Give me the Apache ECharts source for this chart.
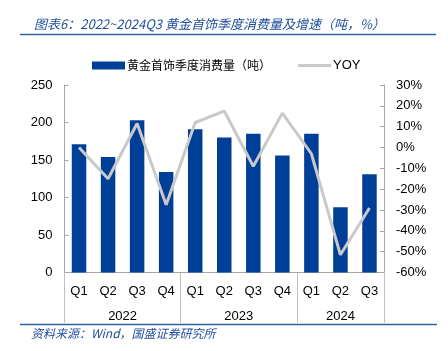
<!DOCTYPE html>
<html>
<head>
<meta charset="utf-8">
<script src="https://cdn.jsdelivr.net/npm/echarts@6/dist/echarts.min.js"></script>
<style>
html, body { margin: 0; padding: 0; background: #fff; }
#chart { width: 448px; height: 351px; }
</style>
</head>
<body>
<div id="chart"></div>
<script>
// 季度
var quarters = ['Q1', 'Q2', 'Q3', 'Q4', 'Q1', 'Q2', 'Q3', 'Q4', 'Q1', 'Q2', 'Q3'];
// 年份分组（半格刻度，共 23 个点）
var years = ['2022', '2023', '2024'];
var yearLabelIdx = [4, 12, 19];
var yearSplitIdx = [0, 8, 16, 22];
// 黄金首饰季度消费量（吨）
var volume = [171, 154, 203, 134, 191, 180, 185, 156, 185, 87, 131];
// YOY（%）
var yoy = [0, -15, 11.5, -27.5, 12, 17.5, -9, 16.5, -3, -51.5, -29];
// 坐标轴刻度
var leftAxis = { min: 0, max: 250, interval: 50 };
var rightAxis = { min: -60, max: 30, interval: 10 };

var FONT = 'Liberation Sans, Arial, Noto Sans CJK SC, sans-serif';
var CJK = 'Noto Sans CJK SC, sans-serif';
var BLUE = '#003f98';
var GRAY_LINE = '#c9c9c9';
var AXIS = '#a6a6a6';

var yearData = [];
for (var i = 0; i < 23; i++) {
	var k = yearLabelIdx.indexOf(i);
	yearData.push(k >= 0 ? years[k] : '');
}

var myChart = echarts.init(document.getElementById('chart'));

var option = {
	animation: false,
	textStyle: { fontFamily: FONT },
	title: {
		text: '图表6：2022~2024Q3 黄金首饰季度消费量及增速（吨，%）',
		left: 29,
		top: 13,
		textStyle: {
			color: '#1f4e9c',
			fontStyle: 'italic',
			fontWeight: 'normal',
			fontSize: 13,
			fontFamily: CJK
		}
	},
	legend: {
		left: 92,
		top: 59,
		padding: 0,
		itemGap: 27,
		itemWidth: 33,
		itemHeight: 8,
		textStyle: { color: '#000', fontSize: 12, fontFamily: CJK, padding: [0, 0, 0, -3] },
		data: [
			{ name: '黄金首饰季度消费量（吨）', icon: 'rect' },
			{
				name: 'YOY',
				icon: 'path://M0,0 L0.01,0 Z M0,2.6 L33,2.6 L33,5.4 L0,5.4 Z M0,8 L0.01,8 Z',
				itemStyle: { color: GRAY_LINE },
				textStyle: { fontFamily: FONT, fontSize: 13 }
			}
		]
	},
	graphic: [
		{ type: 'line', shape: { x1: 20, y1: 34.5, x2: 436, y2: 34.5 }, style: { stroke: '#2f5fa8', lineWidth: 1.5 } },
		{ type: 'line', shape: { x1: 20, y1: 324.5, x2: 437, y2: 324.5 }, style: { stroke: '#2f5fa8', lineWidth: 1.5 } },
		{
			type: 'text', left: 31, top: 327,
			style: { text: '资料来源：Wind，国盛证券研究所', fill: '#1f4e9c', fontStyle: 'italic', fontSize: 12, fontFamily: CJK }
		}
	],
	grid: { left: 64.5, right: 64, top: 85, bottom: 78.5 },
	xAxis: [
		{
			type: 'category',
			data: quarters,
			position: 'bottom',
			axisLine: { onZero: false, lineStyle: { color: AXIS } },
			axisTick: { interval: 0, length: 25, lineStyle: { color: '#c0c0c0' } },
			axisLabel: { interval: 0, margin: 12, color: '#000', fontSize: 13 }
		},
		{
			type: 'category',
			data: yearData,
			position: 'bottom',
			boundaryGap: false,
			axisLine: { show: false, onZero: false },
			axisTick: {
				length: 50,
				interval: function (idx) { return yearSplitIdx.indexOf(idx) >= 0; },
				lineStyle: { color: '#c0c0c0' }
			},
			axisLabel: { interval: 0, margin: 37, color: '#000', fontSize: 13 }
		}
	],
	yAxis: [
		{
			type: 'value',
			min: leftAxis.min, max: leftAxis.max, interval: leftAxis.interval,
			axisLine: { show: true, lineStyle: { color: AXIS } },
			axisTick: { show: true, inside: true, length: 4, lineStyle: { color: AXIS } },
			axisLabel: { color: '#000', fontSize: 13, margin: 12 },
			splitLine: { show: false }
		},
		{
			type: 'value',
			min: rightAxis.min, max: rightAxis.max, interval: rightAxis.interval,
			axisLine: { show: true, lineStyle: { color: AXIS } },
			axisTick: { show: true, inside: true, length: 4, lineStyle: { color: AXIS } },
			axisLabel: { color: '#000', fontSize: 13, margin: 12, formatter: '{value}%' },
			splitLine: { show: false }
		}
	],
	series: [
		{
			name: '黄金首饰季度消费量（吨）',
			type: 'bar',
			data: volume,
			barWidth: 14.5,
			itemStyle: { color: BLUE }
		},
		{
			name: 'YOY',
			type: 'line',
			yAxisIndex: 1,
			data: yoy,
			symbol: 'none',
			lineStyle: { color: GRAY_LINE, width: 3 },
			itemStyle: { color: GRAY_LINE }
		}
	]
};

myChart.setOption(option);
</script>
</body>
</html>
